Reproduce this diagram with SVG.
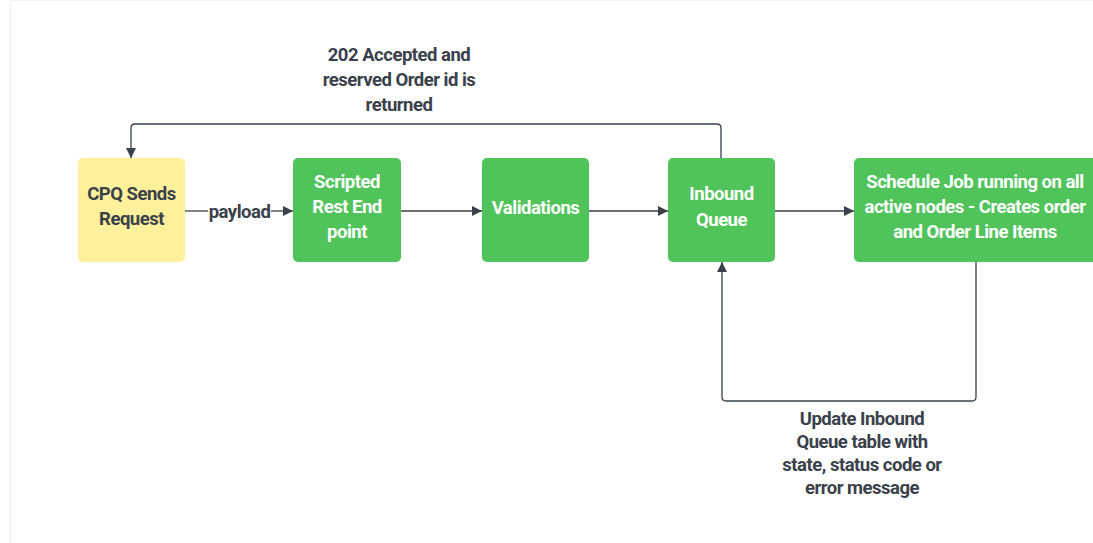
<svg xmlns="http://www.w3.org/2000/svg" width="1093" height="543" viewBox="0 0 1093 543">
  <defs>
    <marker id="arrow" viewBox="0 0 10 10" refX="10" refY="5" markerWidth="10" markerHeight="10" markerUnits="userSpaceOnUse" orient="auto">
      <path d="M0,0 L10,5 L0,10 z" fill="#3a414a"/>
    </marker>
    <style>
      .node-green { fill: #50c35b; }
      .node-yellow { fill: #fff19b; }
      .edge { fill: none; stroke: #3a414a; stroke-width: 1.3; }
      text { font-family: "Liberation Sans Narrow", Roboto, "Liberation Sans", sans-serif; font-weight: bold; font-size: 18.5px; letter-spacing: -0.5px; text-anchor: middle; }
      .light { fill: #ffffff; }
      .dark { fill: #3a414a; }
    </style>
  </defs>

  <rect x="0" y="0" width="1093" height="543" fill="#ffffff"/>
  <!-- page frame -->
  <path d="M10.5,543 V0.5 H1093" fill="none" stroke="#efefef" stroke-width="1"/>

  <g id="connectors">
    <path class="edge" d="M185,211 H208" />
    <path class="edge" d="M271,211 H293" marker-end="url(#arrow)"/>
    <path class="edge" d="M401,211 H482" marker-end="url(#arrow)"/>
    <path class="edge" d="M589,211 H668" marker-end="url(#arrow)"/>
    <path class="edge" d="M775,211 H854" marker-end="url(#arrow)"/>
    <path class="edge" d="M721,158 V128 Q721,124 717,124 H135 Q131,124 131,128 V158" marker-end="url(#arrow)"/>
    <path class="edge" d="M976,262 V397 Q976,401 972,401 H726 Q722,401 722,397 V262" marker-end="url(#arrow)"/>
    <text class="dark" x="239.5" y="218">payload</text>
    <text class="dark" x="399" y="61">202 Accepted and</text>
    <text class="dark" x="399" y="86">reserved Order id is</text>
    <text class="dark" x="399" y="111">returned</text>
    <text class="dark" x="862" y="425">Update Inbound</text>
    <text class="dark" x="862" y="448">Queue table with</text>
    <text class="dark" x="862" y="471">state, status code or</text>
    <text class="dark" x="862" y="494">error message</text>
  </g>

  <g id="cpq">
    <rect class="node-yellow" x="78" y="158" width="107" height="104" rx="5"/>
    <text class="dark" x="131.5" y="200">CPQ Sends</text>
    <text class="dark" x="131.5" y="225">Request</text>
  </g>

  <g id="scripted-rest">
    <rect class="node-green" x="293" y="158" width="108" height="104" rx="5"/>
    <text class="light" x="347" y="188">Scripted</text>
    <text class="light" x="347" y="213">Rest End</text>
    <text class="light" x="347" y="238">point</text>
  </g>

  <g id="validations">
    <rect class="node-green" x="482" y="158" width="107" height="104" rx="5"/>
    <text class="light" x="535.5" y="214">Validations</text>
  </g>

  <g id="inbound-queue">
    <rect class="node-green" x="668" y="158" width="107" height="104" rx="5"/>
    <text class="light" x="721.5" y="200">Inbound</text>
    <text class="light" x="721.5" y="226">Queue</text>
  </g>

  <g id="schedule-job">
    <rect class="node-green" x="854" y="158" width="245" height="104" rx="5"/>
    <text class="light" x="975" y="188">Schedule Job running on all</text>
    <text class="light" x="975" y="213">active nodes - Creates order</text>
    <text class="light" x="975" y="238">and Order Line Items</text>
  </g>
</svg>
